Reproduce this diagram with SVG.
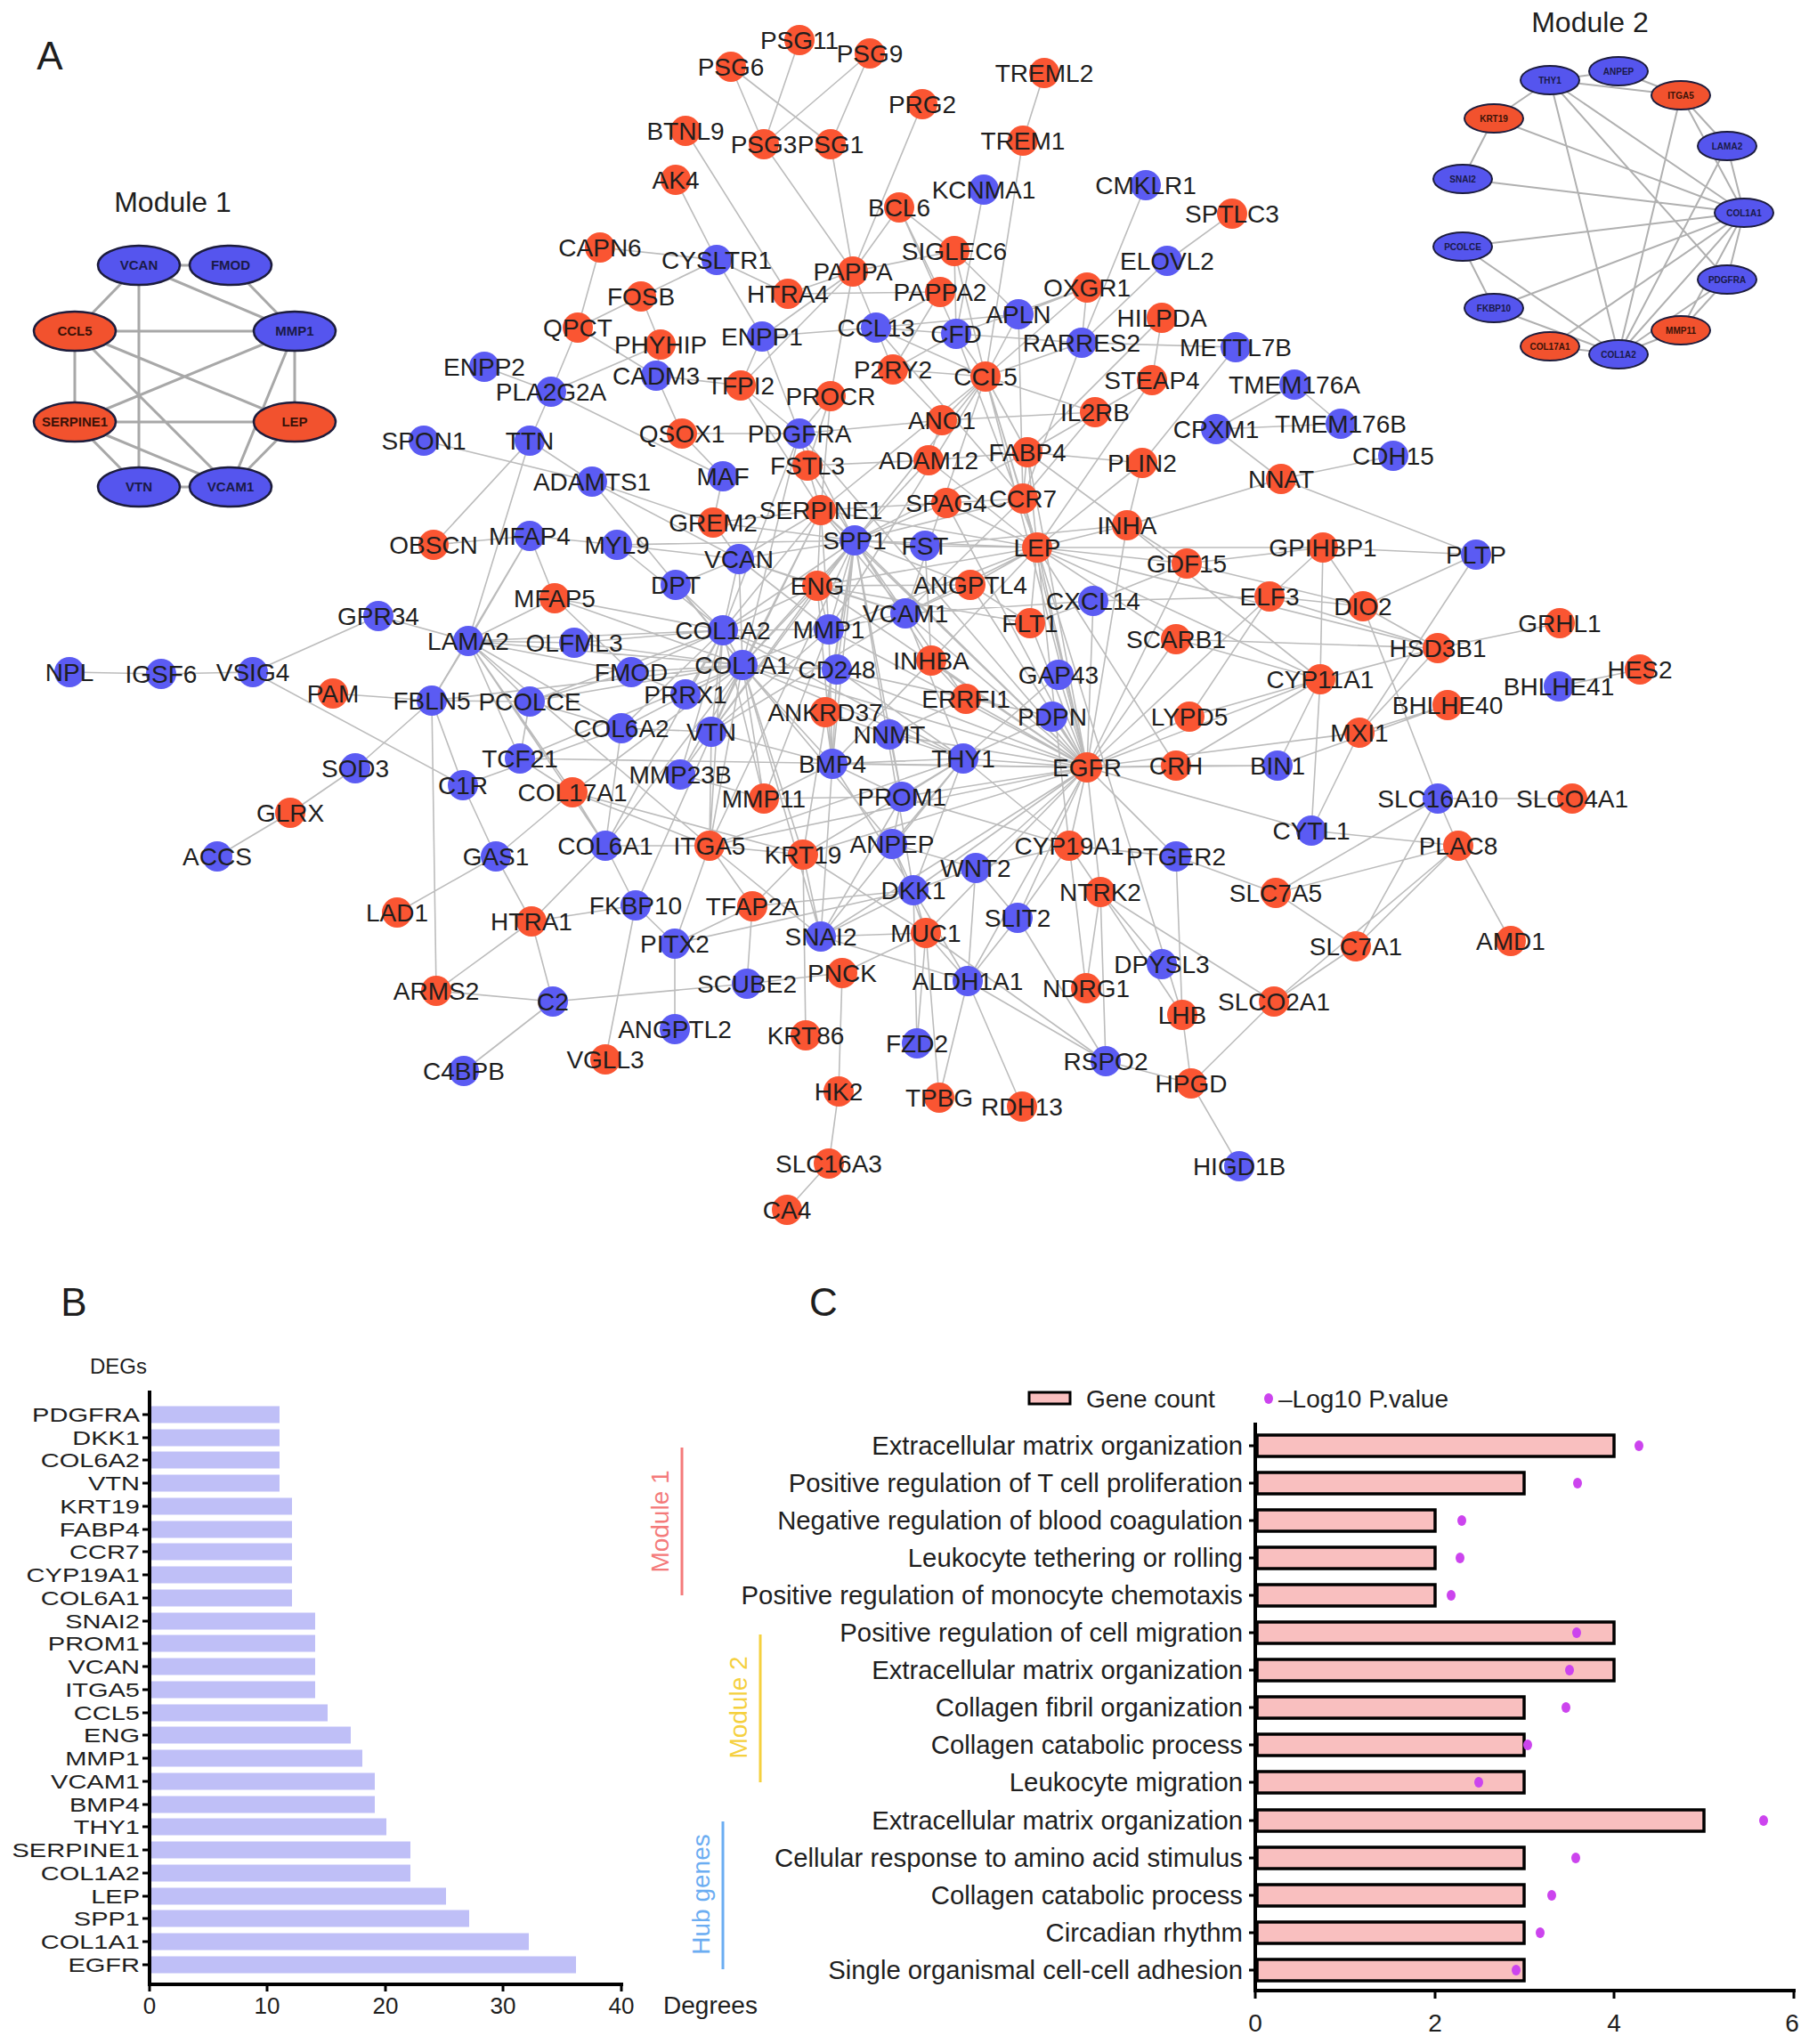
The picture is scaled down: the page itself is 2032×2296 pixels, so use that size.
<svg xmlns="http://www.w3.org/2000/svg" width="2032" height="2296" viewBox="0 0 2032 2296">
<style>
text{font-family:'Liberation Sans',Arial,Helvetica,sans-serif;fill:#1e1e1e}
.net text{font-size:28px;text-anchor:middle}
.o circle{fill:#fa5532}
.b circle{fill:#5b5bf3}
.edges path{stroke:#bcbcbc;stroke-width:1.6;fill:none}
.medges path{stroke:#a8a8a8;stroke-width:3;fill:none}
.m2edges path{stroke:#b0b0b0;stroke-width:2;fill:none}
.m1 ellipse{stroke:#1c1c3c;stroke-width:2.5}
.m2 ellipse{stroke:#1c1c3c;stroke-width:2}
.mo ellipse{fill:#f2522e}
.mb ellipse{fill:#5555ee}
.m1 text{font-size:15px;font-weight:bold;text-anchor:middle;fill:#1a1a48}
.m2 text{font-size:10px;font-weight:bold;text-anchor:middle;fill:#1a1a48}
.mo text{fill:#3a1208}
.title{font-size:32px;text-anchor:middle}
.panel{font-size:44px;text-anchor:middle}
.blab{font-size:22.5px;text-anchor:end}
.bar{fill:#bfbff7}
.axis{stroke:#000;stroke-width:4;fill:none}
.tick{stroke:#000;stroke-width:3;fill:none}
.tl{font-size:26px;text-anchor:middle}
.cbar{fill:#f9bfbf;stroke:#000;stroke-width:3.5}
.dot{fill:#cc44ee}
</style>

<text class="panel" x="56" y="78">A</text>
<text class="panel" x="83" y="1478">B</text>
<text class="panel" x="925" y="1478">C</text>

<!-- Module 1 -->
<text class="title" x="194" y="238">Module 1</text>
<g id="m1-edges" class="medges"><path d="M156 298L259 298M156 298L84 372M156 298L156 547M156 298L331 372M259 298L331 372M84 372L331 372M84 372L84 474M84 372L331 474M84 372L259 547M331 372L84 474M331 372L331 474M331 372L259 547M84 474L331 474M84 474L156 547M84 474L259 547M331 474L259 547M156 547L259 547"/></g>
<g class="m1">
<g id="m1-VCAN" class="mb"><ellipse cx="156" cy="298" rx="46" ry="22"/><text x="156" y="303">VCAN</text></g>
<g id="m1-FMOD" class="mb"><ellipse cx="259" cy="298" rx="46" ry="22"/><text x="259" y="303">FMOD</text></g>
<g id="m1-CCL5" class="mo"><ellipse cx="84" cy="372" rx="46" ry="22"/><text x="84" y="377">CCL5</text></g>
<g id="m1-MMP1" class="mb"><ellipse cx="331" cy="372" rx="46" ry="22"/><text x="331" y="377">MMP1</text></g>
<g id="m1-SERPINE1" class="mo"><ellipse cx="84" cy="474" rx="46" ry="22"/><text x="84" y="479">SERPINE1</text></g>
<g id="m1-LEP" class="mo"><ellipse cx="331" cy="474" rx="46" ry="22"/><text x="331" y="479">LEP</text></g>
<g id="m1-VTN" class="mb"><ellipse cx="156" cy="547" rx="46" ry="22"/><text x="156" y="552">VTN</text></g>
<g id="m1-VCAM1" class="mb"><ellipse cx="259" cy="547" rx="46" ry="22"/><text x="259" y="552">VCAM1</text></g>
</g>

<!-- Module 2 -->
<text class="title" x="1786" y="36">Module 2</text>
<g id="m2-edges" class="m2edges"><path d="M1741 90L1818 80M1741 90L1888 107M1818 80L1888 107M1741 90L1678 133M1741 90L1959 239M1741 90L1940 314M1741 90L1818 398M1678 133L1643 201M1678 133L1959 239M1643 201L1959 239M1888 107L1940 164M1888 107L1959 239M1888 107L1818 398M1940 164L1818 398M1940 164L1959 239M1959 239L1643 277M1959 239L1678 346M1959 239L1741 389M1959 239L1818 398M1959 239L1940 314M1959 239L1888 371M1643 277L1678 346M1643 277L1818 398M1678 346L1818 398M1741 389L1818 398M1888 371L1818 398M1940 314L1818 398M1940 314L1888 371"/></g>
<g class="m2">
<g id="m2-THY1" class="mb"><ellipse cx="1741" cy="90" rx="33" ry="16"/><text x="1741" y="94">THY1</text></g>
<g id="m2-ANPEP" class="mb"><ellipse cx="1818" cy="80" rx="33" ry="16"/><text x="1818" y="84">ANPEP</text></g>
<g id="m2-ITGA5" class="mo"><ellipse cx="1888" cy="107" rx="33" ry="16"/><text x="1888" y="111">ITGA5</text></g>
<g id="m2-KRT19" class="mo"><ellipse cx="1678" cy="133" rx="33" ry="16"/><text x="1678" y="137">KRT19</text></g>
<g id="m2-LAMA2" class="mb"><ellipse cx="1940" cy="164" rx="33" ry="16"/><text x="1940" y="168">LAMA2</text></g>
<g id="m2-SNAI2" class="mb"><ellipse cx="1643" cy="201" rx="33" ry="16"/><text x="1643" y="205">SNAI2</text></g>
<g id="m2-COL1A1" class="mb"><ellipse cx="1959" cy="239" rx="33" ry="16"/><text x="1959" y="243">COL1A1</text></g>
<g id="m2-PCOLCE" class="mb"><ellipse cx="1643" cy="277" rx="33" ry="16"/><text x="1643" y="281">PCOLCE</text></g>
<g id="m2-PDGFRA" class="mb"><ellipse cx="1940" cy="314" rx="33" ry="16"/><text x="1940" y="318">PDGFRA</text></g>
<g id="m2-FKBP10" class="mb"><ellipse cx="1678" cy="346" rx="33" ry="16"/><text x="1678" y="350">FKBP10</text></g>
<g id="m2-MMP11" class="mo"><ellipse cx="1888" cy="371" rx="33" ry="16"/><text x="1888" y="375">MMP11</text></g>
<g id="m2-COL17A1" class="mo"><ellipse cx="1741" cy="389" rx="33" ry="16"/><text x="1741" y="393">COL17A1</text></g>
<g id="m2-COL1A2" class="mb"><ellipse cx="1818" cy="398" rx="33" ry="16"/><text x="1818" y="402">COL1A2</text></g>
</g>

<!-- Network connectors -->
<g id="connectors" class="edges">
<path d="M898 45L858 162M821 75L858 162M821 75L933 162M977 60L858 162M977 60L933 162M858 162L958 305M933 162L958 305M1036 117L958 305M770 147L885 330M1173 82L1149 158M1149 158L1107 423M759 202L805 292M1010 233L958 305M1010 233L1072 282M1010 233L1056 328M1010 233L1074 375M1105 213L1074 375M1287 208L1215 385M1384 240L1311 293M1311 293L1215 385M674 278L805 292M674 278L649 368M805 292L720 333M805 292L885 330M805 292L856 378M885 330L958 305M885 330L1056 328M720 333L742 387M720 333L649 368M958 305L1072 282M958 305L984 368M958 305L832 433M958 305L933 445M958 305L856 378M1072 282L1107 423M1072 282L1074 375M1072 282L1144 353M1056 328L984 368M1056 328L1003 415M1144 353L1221 323M1144 353L984 368M1144 353L1107 423M1144 353L1149 560M1221 323L1215 385M1221 323L1107 423M1221 323L1074 375M1305 357L1294 427M1305 357L1154 508M1215 385L1388 390M1215 385L1107 423M1215 385L1149 560M1215 385L1074 375M1388 390L1283 520M984 368L1074 375M984 368L1003 415M984 368L1107 423M984 368L1149 560M984 368L856 378M1074 375L1107 423M1074 375L1003 415M1074 375L1165 615M1003 415L1107 423M1003 415L1058 472M1107 423L1230 463M1107 423L1149 560M1107 423L960 607M1107 423L1165 615M1107 423L1017 689M1107 423L931 707M1107 423L1058 472M1107 423L1154 508M1107 423L1221 862M1230 463L1149 560M1230 463L1058 472M1294 427L1154 508M1294 427L1165 615M1454 432L1366 482M1454 432L1506 476M1366 482L1506 476M1366 482L1439 538M1439 538L1565 512M1439 538L1658 623M1439 538L1266 590"/>
<path d="M544 412L619 440M649 368L619 440M649 368L737 422M619 440L595 495M619 440L812 535M619 440L742 387M476 495L665 541M595 495L665 541M595 495L526 720M595 495L487 612M856 378L832 433M856 378L898 487M742 387L737 422M737 422L766 487M737 422L832 433M832 433L898 487M832 433L922 573M933 445L922 573M933 445L898 487M933 445L907 523M1058 472L1043 517M1058 472L898 487M766 487L812 535M766 487L898 487M812 535L801 587M665 541L801 587M665 541L830 628M665 541L834 747M898 487L960 607M898 487L834 747M898 487L812 708M898 487L907 523M898 487L1221 862M907 523L922 573M907 523L1043 517M907 523L960 607M1043 517L960 607M1043 517L1165 615M1043 517L1154 508M1154 508L1149 560M1154 508L1165 615M1154 508L960 607M1154 508L1221 862M1154 508L1283 520M1154 508L1266 590M1283 520L1165 615M1283 520L1266 590"/>
<path d="M922 573L960 607M922 573L830 628M922 573L918 658M922 573L931 707M922 573L1017 689M922 573L1165 615M922 573L1107 423M922 573L834 747M922 573L812 708M922 573L799 822M922 573L1221 862M922 573L1063 565M1063 565L1149 560M1063 565L1165 615M1063 565L960 607M1063 565L1221 862M1149 560L1165 615M1149 560L960 607M1149 560L1221 862M1149 560L1017 689M801 587L830 628M801 587L922 573M801 587L960 607M487 612L595 602M595 602L693 612M595 602L623 672M595 602L526 720M595 602L485 787M693 612L960 607M693 612L812 708M693 612L830 628M960 607L1039 613M960 607L1165 615M960 607L918 658M960 607L931 707M960 607L1017 689M960 607L834 747M960 607L812 708M960 607L1221 862M960 607L935 858M960 607L799 822M960 607L797 950M960 607L1013 895M960 607L940 752M960 607L1090 657M960 607L1046 742M960 607L927 800M960 607L902 960M960 607L1026 1000M960 607L830 628M1039 613L1165 615M1039 613L1046 742M1039 613L1266 590M1165 615L1266 590M1165 615L1333 633M1165 615L1090 657M1165 615L1017 689M1165 615L931 707M1165 615L1157 700M1165 615L1221 862M1165 615L1321 860M1165 615L1321 718M1165 615L1201 950M1165 615L1328 1140M1165 615L918 658M1165 615L1046 742M1165 615L1615 728M1165 615L1483 763M1165 615L1486 615M1266 590L1333 633M1266 590L1483 763M1266 590L1221 862"/>
<path d="M1486 615L1658 623M1486 615L1333 633M1486 615L1426 670M1486 615L1483 763M1486 615L1531 681M1658 623L1531 681M1658 623L1527 823M1426 670L1531 681M1426 670L1221 862M1426 670L1228 675M1426 670L1615 728M1426 670L1336 805M1531 681L1615 728M1531 681L1615 897M1531 681L1333 633M1615 728L1752 700M1615 728L1483 763M1615 728L1321 718M1615 728L1527 823M1751 771L1842 752M1626 792L1527 823M1626 792L1435 860M1483 763L1435 860M1483 763L1473 933M1483 763L1221 862M1483 763L1321 860M1483 763L1321 718M1483 763L1336 805M1527 823L1473 933M1527 823L1221 862M1435 860L1321 860M1435 860L1221 862M1615 897L1766 897M1615 897L1638 950M1615 897L1433 1003M1615 897L1523 1063M1473 933L1638 950M1473 933L1221 862M1638 950L1697 1057M1638 950L1433 1003M1638 950L1523 1063M1638 950L1431 1125M1433 1003L1523 1063M1321 962L1433 1003M1431 1125L1523 1063M1431 1125L1338 1217M1431 1125L1236 1002M1338 1217L1392 1310M1338 1217L1328 1140M1338 1217L1242 1192M1321 962L1328 1140M1321 962L1221 862M1321 962L1201 950M1236 1002L1242 1192M1236 1002L1220 1110M1236 1002L1305 1083M1236 1002L1201 950M1236 1002L1328 1140M1236 1002L1221 862"/>
<path d="M1242 1192L1087 1102M1242 1192L1143 1031M1242 1192L1040 1048M1087 1102L1040 1048M1087 1102L1026 1000M1087 1102L1096 975M1087 1102L1148 1243M1087 1102L922 1052M1087 1102L1143 1031M1087 1102L1221 862M1040 1048L1055 1233M1040 1048L1030 1172M1040 1048L922 1052M1040 1048L1026 1000M1040 1048L946 1093M1040 1048L1221 862M1030 1172L1026 1000M1055 1233L1087 1102M902 960L905 1163M946 1093L942 1226M942 1226L931 1307M931 1307L884 1359M839 1105L845 1018M839 1105L946 1093M839 1105L621 1125M758 1156L758 1060M758 1060L714 1017M758 1060L845 1018M758 1060L797 950M758 1060L1026 1000M714 1017L680 950M714 1017L834 747M714 1017L680 1190M845 1018L902 960M845 1018L1026 1000M845 1018L797 950M797 950L680 950M797 950L902 960M797 950L834 747M797 950L812 708M797 950L799 822M797 950L1082 852M797 950L1221 862M797 950L922 1052M902 960L922 1052M902 960L1040 1048M902 960L1221 862M902 960L1082 852M1002 948L1026 1000M1002 948L1096 975M1002 948L1040 1048M1002 948L1082 852M1002 948L1013 895M1096 975L1026 1000M1096 975L1143 1031M1096 975L1201 950M1201 950L1143 1031M1201 950L1221 862M1201 950L1220 1110M1026 1000L922 1052M1026 1000L1221 862M1026 1000L1082 852M1026 1000L935 858M922 1052L1082 852M922 1052L1221 862M922 1052L834 747M922 1052L935 858M922 1052L1013 895"/>
<path d="M78 755L181 757M181 757L284 755M284 755L425 692M284 755L520 882M425 692L526 720M374 779L485 787M485 787L399 863M399 863L326 913M326 913L244 962M485 787L526 720M485 787L520 882M485 787L490 1113M485 787L834 747M485 787L595 788M446 1025L557 962M520 882L557 962M520 882L698 818M557 962L597 1035M557 962L643 890M597 1035L490 1113M597 1035L621 1125M490 1113L621 1125M621 1125L521 1203M597 1035L714 1017M597 1035L680 950M526 720L595 788M526 720L834 747M526 720L812 708M526 720L698 818M526 720L680 950M526 720L584 852M526 720L645 722M526 720L643 890M526 720L709 755M526 720L797 950M623 672L834 747M623 672L812 708M623 672L526 720M623 672L709 755M645 722L834 747M645 722L812 708M595 788L834 747M595 788L812 708M595 788L698 818M595 788L709 755M595 788L584 852M584 852L834 747M584 852L1221 862M584 852L643 890M643 890L834 747M643 890L797 950M643 890L902 960M643 890L680 950M680 950L834 747M680 950L698 818M680 950L812 708M698 818L834 747M698 818L812 708M698 818L799 822M709 755L834 747M709 755L812 708M709 755L770 780M759 657L834 747M759 657L812 708M759 657L830 628M770 780L834 747M770 780L812 708"/>
<path d="M830 628L834 747M830 628L812 708M830 628L931 707M830 628L1017 689M830 628L918 658M812 708L834 747M812 708L931 707M812 708L918 658M812 708L799 822M812 708L1082 852M812 708L1221 862M834 747L931 707M834 747L799 822M834 747L1082 852M834 747L1221 862M834 747L918 658M834 747L935 858M834 747L940 752M834 747L858 897M834 747L764 870M834 747L902 960M834 747L1002 948M931 707L1017 689M931 707L918 658M931 707L799 822M931 707L1221 862M931 707L935 858M931 707L858 897M918 658L1017 689M918 658L935 858M918 658L1221 862M918 658L1090 657M918 658L1157 700M918 658L799 822M1017 689L799 822M1017 689L1221 862M1017 689L1090 657M1017 689L1082 852M1017 689L1228 675M1017 689L1085 785M940 752L1082 852M940 752L935 858M940 752L1182 805M1046 742L935 858M1046 742L1221 862M1046 742L1085 785M1090 657L1157 700M1090 657L1221 862M1157 700L1221 862M1157 700L1228 675M1228 675L1221 862M1228 675L1333 633M1189 758L1221 862M1189 758L1082 852M1182 805L1221 862M1182 805L1082 852M1321 718L1221 862M1336 805L1221 862M1321 860L1221 862M1085 785L1221 862M1085 785L999 825M927 800L935 858M927 800L999 825M999 825L1082 852M999 825L1013 895M999 825L1221 862M935 858L1082 852M935 858L1013 895M935 858L1221 862M935 858L799 822M935 858L858 897M1082 852L1221 862M1082 852L1013 895M1013 895L1221 862M1013 895L858 897M1013 895L1201 950M764 870L812 708M764 870L858 897M858 897L812 708M799 822L764 870M1082 852L1201 950M1333 633L1221 862M1221 862L1143 1031M1221 862L1096 975"/>
</g>

<!-- Network nodes -->
<g class="net">
<g id="n-PSG11" class="o"><circle cx="898" cy="45" r="17"/><text x="898" y="55">PSG11</text></g>
<g id="n-PSG9" class="o"><circle cx="977" cy="60" r="17"/><text x="977" y="70">PSG9</text></g>
<g id="n-PSG6" class="o"><circle cx="821" cy="75" r="17"/><text x="821" y="85">PSG6</text></g>
<g id="n-TREML2" class="o"><circle cx="1173" cy="82" r="17"/><text x="1173" y="92">TREML2</text></g>
<g id="n-PRG2" class="o"><circle cx="1036" cy="117" r="17"/><text x="1036" y="127">PRG2</text></g>
<g id="n-BTNL9" class="o"><circle cx="770" cy="147" r="17"/><text x="770" y="157">BTNL9</text></g>
<g id="n-PSG3" class="o"><circle cx="858" cy="162" r="17"/><text x="858" y="172">PSG3</text></g>
<g id="n-PSG1" class="o"><circle cx="933" cy="162" r="17"/><text x="933" y="172">PSG1</text></g>
<g id="n-TREM1" class="o"><circle cx="1149" cy="158" r="17"/><text x="1149" y="168">TREM1</text></g>
<g id="n-AK4" class="o"><circle cx="759" cy="202" r="17"/><text x="759" y="212">AK4</text></g>
<g id="n-KCNMA1" class="b"><circle cx="1105" cy="213" r="17"/><text x="1105" y="223">KCNMA1</text></g>
<g id="n-CMKLR1" class="b"><circle cx="1287" cy="208" r="17"/><text x="1287" y="218">CMKLR1</text></g>
<g id="n-BCL6" class="o"><circle cx="1010" cy="233" r="17"/><text x="1010" y="243">BCL6</text></g>
<g id="n-SPTLC3" class="o"><circle cx="1384" cy="240" r="17"/><text x="1384" y="250">SPTLC3</text></g>
<g id="n-CAPN6" class="o"><circle cx="674" cy="278" r="17"/><text x="674" y="288">CAPN6</text></g>
<g id="n-SIGLEC6" class="o"><circle cx="1072" cy="282" r="17"/><text x="1072" y="292">SIGLEC6</text></g>
<g id="n-CYSLTR1" class="b"><circle cx="805" cy="292" r="17"/><text x="805" y="302">CYSLTR1</text></g>
<g id="n-ELOVL2" class="b"><circle cx="1311" cy="293" r="17"/><text x="1311" y="303">ELOVL2</text></g>
<g id="n-PAPPA" class="o"><circle cx="958" cy="305" r="17"/><text x="958" y="315">PAPPA</text></g>
<g id="n-HTRA4" class="o"><circle cx="885" cy="330" r="17"/><text x="885" y="340">HTRA4</text></g>
<g id="n-PAPPA2" class="o"><circle cx="1056" cy="328" r="17"/><text x="1056" y="338">PAPPA2</text></g>
<g id="n-OXGR1" class="o"><circle cx="1221" cy="323" r="17"/><text x="1221" y="333">OXGR1</text></g>
<g id="n-FOSB" class="o"><circle cx="720" cy="333" r="17"/><text x="720" y="343">FOSB</text></g>
<g id="n-APLN" class="b"><circle cx="1144" cy="353" r="17"/><text x="1144" y="363">APLN</text></g>
<g id="n-HILPDA" class="o"><circle cx="1305" cy="357" r="17"/><text x="1305" y="367">HILPDA</text></g>
<g id="n-QPCT" class="o"><circle cx="649" cy="368" r="17"/><text x="649" y="378">QPCT</text></g>
<g id="n-PHYHIP" class="o"><circle cx="742" cy="387" r="17"/><text x="742" y="397">PHYHIP</text></g>
<g id="n-ENPP1" class="b"><circle cx="856" cy="378" r="17"/><text x="856" y="388">ENPP1</text></g>
<g id="n-CCL13" class="b"><circle cx="984" cy="368" r="17"/><text x="984" y="378">CCL13</text></g>
<g id="n-CFD" class="b"><circle cx="1074" cy="375" r="17"/><text x="1074" y="385">CFD</text></g>
<g id="n-RARRES2" class="b"><circle cx="1215" cy="385" r="17"/><text x="1215" y="395">RARRES2</text></g>
<g id="n-METTL7B" class="b"><circle cx="1388" cy="390" r="17"/><text x="1388" y="400">METTL7B</text></g>
<g id="n-ENPP2" class="b"><circle cx="544" cy="412" r="17"/><text x="544" y="422">ENPP2</text></g>
<g id="n-CADM3" class="b"><circle cx="737" cy="422" r="17"/><text x="737" y="432">CADM3</text></g>
<g id="n-TFPI2" class="o"><circle cx="832" cy="433" r="17"/><text x="832" y="443">TFPI2</text></g>
<g id="n-P2RY2" class="o"><circle cx="1003" cy="415" r="17"/><text x="1003" y="425">P2RY2</text></g>
<g id="n-CCL5" class="o"><circle cx="1107" cy="423" r="17"/><text x="1107" y="433">CCL5</text></g>
<g id="n-STEAP4" class="o"><circle cx="1294" cy="427" r="17"/><text x="1294" y="437">STEAP4</text></g>
<g id="n-TMEM176A" class="b"><circle cx="1454" cy="432" r="17"/><text x="1454" y="442">TMEM176A</text></g>
<g id="n-PLA2G2A" class="b"><circle cx="619" cy="440" r="17"/><text x="619" y="450">PLA2G2A</text></g>
<g id="n-PROCR" class="o"><circle cx="933" cy="445" r="17"/><text x="933" y="455">PROCR</text></g>
<g id="n-IL2RB" class="o"><circle cx="1230" cy="463" r="17"/><text x="1230" y="473">IL2RB</text></g>
<g id="n-SPON1" class="b"><circle cx="476" cy="495" r="17"/><text x="476" y="505">SPON1</text></g>
<g id="n-TTN" class="b"><circle cx="595" cy="495" r="17"/><text x="595" y="505">TTN</text></g>
<g id="n-QSOX1" class="o"><circle cx="766" cy="487" r="17"/><text x="766" y="497">QSOX1</text></g>
<g id="n-PDGFRA" class="b"><circle cx="898" cy="487" r="17"/><text x="898" y="497">PDGFRA</text></g>
<g id="n-ANO1" class="o"><circle cx="1058" cy="472" r="17"/><text x="1058" y="482">ANO1</text></g>
<g id="n-CPXM1" class="b"><circle cx="1366" cy="482" r="17"/><text x="1366" y="492">CPXM1</text></g>
<g id="n-TMEM176B" class="b"><circle cx="1506" cy="476" r="17"/><text x="1506" y="486">TMEM176B</text></g>
<g id="n-CDH15" class="b"><circle cx="1565" cy="512" r="17"/><text x="1565" y="522">CDH15</text></g>
<g id="n-ADAMTS1" class="b"><circle cx="665" cy="541" r="17"/><text x="665" y="551">ADAMTS1</text></g>
<g id="n-MAF" class="b"><circle cx="812" cy="535" r="17"/><text x="812" y="545">MAF</text></g>
<g id="n-FSTL3" class="o"><circle cx="907" cy="523" r="17"/><text x="907" y="533">FSTL3</text></g>
<g id="n-ADAM12" class="o"><circle cx="1043" cy="517" r="17"/><text x="1043" y="527">ADAM12</text></g>
<g id="n-FABP4" class="o"><circle cx="1154" cy="508" r="17"/><text x="1154" y="518">FABP4</text></g>
<g id="n-PLIN2" class="o"><circle cx="1283" cy="520" r="17"/><text x="1283" y="530">PLIN2</text></g>
<g id="n-NNAT" class="o"><circle cx="1439" cy="538" r="17"/><text x="1439" y="548">NNAT</text></g>
<g id="n-SERPINE1" class="o"><circle cx="922" cy="573" r="17"/><text x="922" y="583">SERPINE1</text></g>
<g id="n-SPAG4" class="o"><circle cx="1063" cy="565" r="17"/><text x="1063" y="575">SPAG4</text></g>
<g id="n-CCR7" class="o"><circle cx="1149" cy="560" r="17"/><text x="1149" y="570">CCR7</text></g>
<g id="n-GREM2" class="o"><circle cx="801" cy="587" r="17"/><text x="801" y="597">GREM2</text></g>
<g id="n-OBSCN" class="o"><circle cx="487" cy="612" r="17"/><text x="487" y="622">OBSCN</text></g>
<g id="n-MFAP4" class="b"><circle cx="595" cy="602" r="17"/><text x="595" y="612">MFAP4</text></g>
<g id="n-MYL9" class="b"><circle cx="693" cy="612" r="17"/><text x="693" y="622">MYL9</text></g>
<g id="n-SPP1" class="b"><circle cx="960" cy="607" r="17"/><text x="960" y="617">SPP1</text></g>
<g id="n-FST" class="b"><circle cx="1039" cy="613" r="17"/><text x="1039" y="623">FST</text></g>
<g id="n-LEP" class="o"><circle cx="1165" cy="615" r="17"/><text x="1165" y="625">LEP</text></g>
<g id="n-INHA" class="o"><circle cx="1266" cy="590" r="17"/><text x="1266" y="600">INHA</text></g>
<g id="n-GPIHBP1" class="o"><circle cx="1486" cy="615" r="17"/><text x="1486" y="625">GPIHBP1</text></g>
<g id="n-PLTP" class="b"><circle cx="1658" cy="623" r="17"/><text x="1658" y="633">PLTP</text></g>
<g id="n-VCAN" class="b"><circle cx="830" cy="628" r="17"/><text x="830" y="638">VCAN</text></g>
<g id="n-GDF15" class="o"><circle cx="1333" cy="633" r="17"/><text x="1333" y="643">GDF15</text></g>
<g id="n-DPT" class="b"><circle cx="759" cy="657" r="17"/><text x="759" y="667">DPT</text></g>
<g id="n-ENG" class="o"><circle cx="918" cy="658" r="17"/><text x="918" y="668">ENG</text></g>
<g id="n-ANGPTL4" class="o"><circle cx="1090" cy="657" r="17"/><text x="1090" y="667">ANGPTL4</text></g>
<g id="n-MFAP5" class="o"><circle cx="623" cy="672" r="17"/><text x="623" y="682">MFAP5</text></g>
<g id="n-ELF3" class="o"><circle cx="1426" cy="670" r="17"/><text x="1426" y="680">ELF3</text></g>
<g id="n-DIO2" class="o"><circle cx="1531" cy="681" r="17"/><text x="1531" y="691">DIO2</text></g>
<g id="n-GPR34" class="b"><circle cx="425" cy="692" r="17"/><text x="425" y="702">GPR34</text></g>
<g id="n-CXCL14" class="b"><circle cx="1228" cy="675" r="17"/><text x="1228" y="685">CXCL14</text></g>
<g id="n-VCAM1" class="b"><circle cx="1017" cy="689" r="17"/><text x="1017" y="699">VCAM1</text></g>
<g id="n-LAMA2" class="b"><circle cx="526" cy="720" r="17"/><text x="526" y="730">LAMA2</text></g>
<g id="n-OLFML3" class="b"><circle cx="645" cy="722" r="17"/><text x="645" y="732">OLFML3</text></g>
<g id="n-COL1A2" class="b"><circle cx="812" cy="708" r="17"/><text x="812" y="718">COL1A2</text></g>
<g id="n-MMP1" class="b"><circle cx="931" cy="707" r="17"/><text x="931" y="717">MMP1</text></g>
<g id="n-FLT1" class="o"><circle cx="1157" cy="700" r="17"/><text x="1157" y="710">FLT1</text></g>
<g id="n-SCARB1" class="o"><circle cx="1321" cy="718" r="17"/><text x="1321" y="728">SCARB1</text></g>
<g id="n-HSD3B1" class="o"><circle cx="1615" cy="728" r="17"/><text x="1615" y="738">HSD3B1</text></g>
<g id="n-GRHL1" class="o"><circle cx="1752" cy="700" r="17"/><text x="1752" y="710">GRHL1</text></g>
<g id="n-NPL" class="b"><circle cx="78" cy="755" r="17"/><text x="78" y="765">NPL</text></g>
<g id="n-IGSF6" class="b"><circle cx="181" cy="757" r="17"/><text x="181" y="767">IGSF6</text></g>
<g id="n-VSIG4" class="b"><circle cx="284" cy="755" r="17"/><text x="284" y="765">VSIG4</text></g>
<g id="n-PAM" class="o"><circle cx="374" cy="779" r="17"/><text x="374" y="789">PAM</text></g>
<g id="n-FBLN5" class="b"><circle cx="485" cy="787" r="17"/><text x="485" y="797">FBLN5</text></g>
<g id="n-PCOLCE" class="b"><circle cx="595" cy="788" r="17"/><text x="595" y="798">PCOLCE</text></g>
<g id="n-FMOD" class="b"><circle cx="709" cy="755" r="17"/><text x="709" y="765">FMOD</text></g>
<g id="n-COL1A1" class="b"><circle cx="834" cy="747" r="17"/><text x="834" y="757">COL1A1</text></g>
<g id="n-CD248" class="b"><circle cx="940" cy="752" r="17"/><text x="940" y="762">CD248</text></g>
<g id="n-INHBA" class="o"><circle cx="1046" cy="742" r="17"/><text x="1046" y="752">INHBA</text></g>
<g id="n-GAP43" class="b"><circle cx="1189" cy="758" r="17"/><text x="1189" y="768">GAP43</text></g>
<g id="n-CYP11A1" class="o"><circle cx="1483" cy="763" r="17"/><text x="1483" y="773">CYP11A1</text></g>
<g id="n-HES2" class="o"><circle cx="1842" cy="752" r="17"/><text x="1842" y="762">HES2</text></g>
<g id="n-BHLHE41" class="b"><circle cx="1751" cy="771" r="17"/><text x="1751" y="781">BHLHE41</text></g>
<g id="n-PRRX1" class="b"><circle cx="770" cy="780" r="17"/><text x="770" y="790">PRRX1</text></g>
<g id="n-ANKRD37" class="o"><circle cx="927" cy="800" r="17"/><text x="927" y="810">ANKRD37</text></g>
<g id="n-ERRFI1" class="o"><circle cx="1085" cy="785" r="17"/><text x="1085" y="795">ERRFI1</text></g>
<g id="n-PDPN" class="b"><circle cx="1182" cy="805" r="17"/><text x="1182" y="815">PDPN</text></g>
<g id="n-LYPD5" class="o"><circle cx="1336" cy="805" r="17"/><text x="1336" y="815">LYPD5</text></g>
<g id="n-BHLHE40" class="o"><circle cx="1626" cy="792" r="17"/><text x="1626" y="802">BHLHE40</text></g>
<g id="n-COL6A2" class="b"><circle cx="698" cy="818" r="17"/><text x="698" y="828">COL6A2</text></g>
<g id="n-VTN" class="b"><circle cx="799" cy="822" r="17"/><text x="799" y="832">VTN</text></g>
<g id="n-NNMT" class="b"><circle cx="999" cy="825" r="17"/><text x="999" y="835">NNMT</text></g>
<g id="n-MXI1" class="o"><circle cx="1527" cy="823" r="17"/><text x="1527" y="833">MXI1</text></g>
<g id="n-TCF21" class="b"><circle cx="584" cy="852" r="17"/><text x="584" y="862">TCF21</text></g>
<g id="n-SOD3" class="b"><circle cx="399" cy="863" r="17"/><text x="399" y="873">SOD3</text></g>
<g id="n-MMP23B" class="b"><circle cx="764" cy="870" r="17"/><text x="764" y="880">MMP23B</text></g>
<g id="n-BMP4" class="b"><circle cx="935" cy="858" r="17"/><text x="935" y="868">BMP4</text></g>
<g id="n-THY1" class="b"><circle cx="1082" cy="852" r="17"/><text x="1082" y="862">THY1</text></g>
<g id="n-EGFR" class="o"><circle cx="1221" cy="862" r="17"/><text x="1221" y="872">EGFR</text></g>
<g id="n-CRH" class="o"><circle cx="1321" cy="860" r="17"/><text x="1321" y="870">CRH</text></g>
<g id="n-BIN1" class="b"><circle cx="1435" cy="860" r="17"/><text x="1435" y="870">BIN1</text></g>
<g id="n-C1R" class="b"><circle cx="520" cy="882" r="17"/><text x="520" y="892">C1R</text></g>
<g id="n-COL17A1" class="o"><circle cx="643" cy="890" r="17"/><text x="643" y="900">COL17A1</text></g>
<g id="n-MMP11" class="o"><circle cx="858" cy="897" r="17"/><text x="858" y="907">MMP11</text></g>
<g id="n-PROM1" class="b"><circle cx="1013" cy="895" r="17"/><text x="1013" y="905">PROM1</text></g>
<g id="n-SLC16A10" class="b"><circle cx="1615" cy="897" r="17"/><text x="1615" y="907">SLC16A10</text></g>
<g id="n-SLCO4A1" class="o"><circle cx="1766" cy="897" r="17"/><text x="1766" y="907">SLCO4A1</text></g>
<g id="n-GLRX" class="o"><circle cx="326" cy="913" r="17"/><text x="326" y="923">GLRX</text></g>
<g id="n-CYTL1" class="b"><circle cx="1473" cy="933" r="17"/><text x="1473" y="943">CYTL1</text></g>
<g id="n-ACCS" class="b"><circle cx="244" cy="962" r="17"/><text x="244" y="972">ACCS</text></g>
<g id="n-GAS1" class="b"><circle cx="557" cy="962" r="17"/><text x="557" y="972">GAS1</text></g>
<g id="n-COL6A1" class="b"><circle cx="680" cy="950" r="17"/><text x="680" y="960">COL6A1</text></g>
<g id="n-ITGA5" class="o"><circle cx="797" cy="950" r="17"/><text x="797" y="960">ITGA5</text></g>
<g id="n-KRT19" class="o"><circle cx="902" cy="960" r="17"/><text x="902" y="970">KRT19</text></g>
<g id="n-ANPEP" class="b"><circle cx="1002" cy="948" r="17"/><text x="1002" y="958">ANPEP</text></g>
<g id="n-CYP19A1" class="o"><circle cx="1201" cy="950" r="17"/><text x="1201" y="960">CYP19A1</text></g>
<g id="n-PTGER2" class="b"><circle cx="1321" cy="962" r="17"/><text x="1321" y="972">PTGER2</text></g>
<g id="n-PLAC8" class="o"><circle cx="1638" cy="950" r="17"/><text x="1638" y="960">PLAC8</text></g>
<g id="n-WNT2" class="b"><circle cx="1096" cy="975" r="17"/><text x="1096" y="985">WNT2</text></g>
<g id="n-DKK1" class="b"><circle cx="1026" cy="1000" r="17"/><text x="1026" y="1010">DKK1</text></g>
<g id="n-SLC7A5" class="o"><circle cx="1433" cy="1003" r="17"/><text x="1433" y="1013">SLC7A5</text></g>
<g id="n-NTRK2" class="o"><circle cx="1236" cy="1002" r="17"/><text x="1236" y="1012">NTRK2</text></g>
<g id="n-LAD1" class="o"><circle cx="446" cy="1025" r="17"/><text x="446" y="1035">LAD1</text></g>
<g id="n-HTRA1" class="o"><circle cx="597" cy="1035" r="17"/><text x="597" y="1045">HTRA1</text></g>
<g id="n-FKBP10" class="b"><circle cx="714" cy="1017" r="17"/><text x="714" y="1027">FKBP10</text></g>
<g id="n-TFAP2A" class="o"><circle cx="845" cy="1018" r="17"/><text x="845" y="1028">TFAP2A</text></g>
<g id="n-MUC1" class="o"><circle cx="1040" cy="1048" r="17"/><text x="1040" y="1058">MUC1</text></g>
<g id="n-SLIT2" class="b"><circle cx="1143" cy="1031" r="17"/><text x="1143" y="1041">SLIT2</text></g>
<g id="n-PITX2" class="b"><circle cx="758" cy="1060" r="17"/><text x="758" y="1070">PITX2</text></g>
<g id="n-SNAI2" class="b"><circle cx="922" cy="1052" r="17"/><text x="922" y="1062">SNAI2</text></g>
<g id="n-SLC7A1" class="o"><circle cx="1523" cy="1063" r="17"/><text x="1523" y="1073">SLC7A1</text></g>
<g id="n-AMD1" class="o"><circle cx="1697" cy="1057" r="17"/><text x="1697" y="1067">AMD1</text></g>
<g id="n-DPYSL3" class="b"><circle cx="1305" cy="1083" r="17"/><text x="1305" y="1093">DPYSL3</text></g>
<g id="n-ALDH1A1" class="b"><circle cx="1087" cy="1102" r="17"/><text x="1087" y="1112">ALDH1A1</text></g>
<g id="n-ARMS2" class="o"><circle cx="490" cy="1113" r="17"/><text x="490" y="1123">ARMS2</text></g>
<g id="n-SCUBE2" class="b"><circle cx="839" cy="1105" r="17"/><text x="839" y="1115">SCUBE2</text></g>
<g id="n-PNCK" class="o"><circle cx="946" cy="1093" r="17"/><text x="946" y="1103">PNCK</text></g>
<g id="n-NDRG1" class="o"><circle cx="1220" cy="1110" r="17"/><text x="1220" y="1120">NDRG1</text></g>
<g id="n-C2" class="b"><circle cx="621" cy="1125" r="17"/><text x="621" y="1135">C2</text></g>
<g id="n-SLCO2A1" class="o"><circle cx="1431" cy="1125" r="17"/><text x="1431" y="1135">SLCO2A1</text></g>
<g id="n-LHB" class="o"><circle cx="1328" cy="1140" r="17"/><text x="1328" y="1150">LHB</text></g>
<g id="n-ANGPTL2" class="b"><circle cx="758" cy="1156" r="17"/><text x="758" y="1166">ANGPTL2</text></g>
<g id="n-KRT86" class="o"><circle cx="905" cy="1163" r="17"/><text x="905" y="1173">KRT86</text></g>
<g id="n-VGLL3" class="o"><circle cx="680" cy="1190" r="17"/><text x="680" y="1200">VGLL3</text></g>
<g id="n-FZD2" class="b"><circle cx="1030" cy="1172" r="17"/><text x="1030" y="1182">FZD2</text></g>
<g id="n-RSPO2" class="b"><circle cx="1242" cy="1192" r="17"/><text x="1242" y="1202">RSPO2</text></g>
<g id="n-C4BPB" class="b"><circle cx="521" cy="1203" r="17"/><text x="521" y="1213">C4BPB</text></g>
<g id="n-HPGD" class="o"><circle cx="1338" cy="1217" r="17"/><text x="1338" y="1227">HPGD</text></g>
<g id="n-HK2" class="o"><circle cx="942" cy="1226" r="17"/><text x="942" y="1236">HK2</text></g>
<g id="n-TPBG" class="o"><circle cx="1055" cy="1233" r="17"/><text x="1055" y="1243">TPBG</text></g>
<g id="n-RDH13" class="o"><circle cx="1148" cy="1243" r="17"/><text x="1148" y="1253">RDH13</text></g>
<g id="n-HIGD1B" class="b"><circle cx="1392" cy="1310" r="17"/><text x="1392" y="1320">HIGD1B</text></g>
<g id="n-SLC16A3" class="o"><circle cx="931" cy="1307" r="17"/><text x="931" y="1317">SLC16A3</text></g>
<g id="n-CA4" class="o"><circle cx="884" cy="1359" r="17"/><text x="884" y="1369">CA4</text></g>
</g>

<!-- Panel B -->
<g id="panel-B">
<text x="133" y="1543" style="font-size:24px;text-anchor:middle">DEGs</text>
<g class="bars">
<rect class="bar" x="170" y="1579.5" width="144" height="19"/>
<rect class="bar" x="170" y="1605.5" width="144" height="19"/>
<rect class="bar" x="170" y="1630.5" width="144" height="19"/>
<rect class="bar" x="170" y="1656.5" width="144" height="19"/>
<rect class="bar" x="170" y="1682.5" width="158" height="19"/>
<rect class="bar" x="170" y="1708.5" width="158" height="19"/>
<rect class="bar" x="170" y="1733.5" width="158" height="19"/>
<rect class="bar" x="170" y="1759.5" width="158" height="19"/>
<rect class="bar" x="170" y="1785.5" width="158" height="19"/>
<rect class="bar" x="170" y="1811.5" width="184" height="19"/>
<rect class="bar" x="170" y="1836.5" width="184" height="19"/>
<rect class="bar" x="170" y="1862.5" width="184" height="19"/>
<rect class="bar" x="170" y="1888.5" width="184" height="19"/>
<rect class="bar" x="170" y="1914.5" width="198" height="19"/>
<rect class="bar" x="170" y="1939.5" width="224" height="19"/>
<rect class="bar" x="170" y="1965.5" width="237" height="19"/>
<rect class="bar" x="170" y="1991.5" width="251" height="19"/>
<rect class="bar" x="170" y="2017.5" width="251" height="19"/>
<rect class="bar" x="170" y="2042.5" width="264" height="19"/>
<rect class="bar" x="170" y="2068.5" width="291" height="19"/>
<rect class="bar" x="170" y="2094.5" width="291" height="19"/>
<rect class="bar" x="170" y="2120.5" width="331" height="19"/>
<rect class="bar" x="170" y="2145.5" width="357" height="19"/>
<rect class="bar" x="170" y="2171.5" width="424" height="19"/>
<rect class="bar" x="170" y="2197.5" width="477" height="19"/>
</g>
<path class="tick" d="M160 1589H168M160 1615H168M160 1640H168M160 1666H168M160 1692H168M160 1718H168M160 1743H168M160 1769H168M160 1795H168M160 1821H168M160 1846H168M160 1872H168M160 1898H168M160 1924H168M160 1949H168M160 1975H168M160 2001H168M160 2027H168M160 2052H168M160 2078H168M160 2104H168M160 2130H168M160 2155H168M160 2181H168M160 2207H168M168 2229V2237M300 2229V2237M433 2229V2237M565 2229V2237M698 2229V2237"/>
<path class="axis" d="M168 1562V2231M166 2229H700"/>
<g class="blabels" transform="scale(1.29 1)">
<text class="blab" x="121.7" y="1597">PDGFRA</text>
<text class="blab" x="121.7" y="1623">DKK1</text>
<text class="blab" x="121.7" y="1648">COL6A2</text>
<text class="blab" x="121.7" y="1674">VTN</text>
<text class="blab" x="121.7" y="1700">KRT19</text>
<text class="blab" x="121.7" y="1726">FABP4</text>
<text class="blab" x="121.7" y="1751">CCR7</text>
<text class="blab" x="121.7" y="1777">CYP19A1</text>
<text class="blab" x="121.7" y="1803">COL6A1</text>
<text class="blab" x="121.7" y="1829">SNAI2</text>
<text class="blab" x="121.7" y="1854">PROM1</text>
<text class="blab" x="121.7" y="1880">VCAN</text>
<text class="blab" x="121.7" y="1906">ITGA5</text>
<text class="blab" x="121.7" y="1932">CCL5</text>
<text class="blab" x="121.7" y="1957">ENG</text>
<text class="blab" x="121.7" y="1983">MMP1</text>
<text class="blab" x="121.7" y="2009">VCAM1</text>
<text class="blab" x="121.7" y="2035">BMP4</text>
<text class="blab" x="121.7" y="2060">THY1</text>
<text class="blab" x="121.7" y="2086">SERPINE1</text>
<text class="blab" x="121.7" y="2112">COL1A2</text>
<text class="blab" x="121.7" y="2138">LEP</text>
<text class="blab" x="121.7" y="2163">SPP1</text>
<text class="blab" x="121.7" y="2189">COL1A1</text>
<text class="blab" x="121.7" y="2215">EGFR</text>
</g>
<text class="tl" x="168" y="2262">0</text>
<text class="tl" x="300" y="2262">10</text>
<text class="tl" x="433" y="2262">20</text>
<text class="tl" x="565" y="2262">30</text>
<text class="tl" x="698" y="2262">40</text>
<text x="798" y="2262" style="font-size:28px;text-anchor:middle">Degrees</text>
</g>

<!-- Panel C -->
<g id="panel-C">
<rect x="1156" y="1564" width="46" height="13" class="cbar" style="stroke-width:3"/>
<text x="1220" y="1581" style="font-size:28px">Gene count</text>
<ellipse class="dot" cx="1425" cy="1571" rx="5" ry="6"/>
<text x="1436" y="1581" style="font-size:28px">–Log10 P.value</text>

<line x1="766" y1="1626" x2="766" y2="1792" stroke="#f47a7a" stroke-width="3"/>
<text transform="translate(751,1709) rotate(-90)" style="font-size:28px;text-anchor:middle;fill:#f47a7a">Module 1</text>
<line x1="854" y1="1836" x2="854" y2="2002" stroke="#f5d03e" stroke-width="3"/>
<text transform="translate(839,1918) rotate(-90)" style="font-size:28px;text-anchor:middle;fill:#f5d03e">Module 2</text>
<line x1="812" y1="2046" x2="812" y2="2212" stroke="#6badf2" stroke-width="3"/>
<text transform="translate(797,2128) rotate(-90)" style="font-size:28px;text-anchor:middle;fill:#6badf2">Hub genes</text>

<rect class="cbar" x="1412" y="1612" width="401" height="24"/>
<rect class="cbar" x="1412" y="1654" width="300" height="24"/>
<rect class="cbar" x="1412" y="1696" width="200" height="24"/>
<rect class="cbar" x="1412" y="1738" width="200" height="24"/>
<rect class="cbar" x="1412" y="1780" width="200" height="24"/>
<rect class="cbar" x="1412" y="1822" width="401" height="24"/>
<rect class="cbar" x="1412" y="1864" width="401" height="24"/>
<rect class="cbar" x="1412" y="1906" width="300" height="24"/>
<rect class="cbar" x="1412" y="1948" width="300" height="24"/>
<rect class="cbar" x="1412" y="1990" width="300" height="24"/>
<rect class="cbar" x="1412" y="2033" width="502" height="24"/>
<rect class="cbar" x="1412" y="2075" width="300" height="24"/>
<rect class="cbar" x="1412" y="2117" width="300" height="24"/>
<rect class="cbar" x="1412" y="2159" width="300" height="24"/>
<rect class="cbar" x="1412" y="2201" width="300" height="24"/>

<g class="dots">
<ellipse class="dot" cx="1841" cy="1624" rx="5" ry="6"/>
<ellipse class="dot" cx="1772" cy="1666" rx="5" ry="6"/>
<ellipse class="dot" cx="1642" cy="1708" rx="5" ry="6"/>
<ellipse class="dot" cx="1640" cy="1750" rx="5" ry="6"/>
<ellipse class="dot" cx="1630" cy="1792" rx="5" ry="6"/>
<ellipse class="dot" cx="1771" cy="1834" rx="5" ry="6"/>
<ellipse class="dot" cx="1763" cy="1876" rx="5" ry="6"/>
<ellipse class="dot" cx="1759" cy="1918" rx="5" ry="6"/>
<ellipse class="dot" cx="1716" cy="1960" rx="5" ry="6"/>
<ellipse class="dot" cx="1661" cy="2002" rx="5" ry="6"/>
<ellipse class="dot" cx="1981" cy="2045" rx="5" ry="6"/>
<ellipse class="dot" cx="1770" cy="2087" rx="5" ry="6"/>
<ellipse class="dot" cx="1743" cy="2129" rx="5" ry="6"/>
<ellipse class="dot" cx="1730" cy="2171" rx="5" ry="6"/>
<ellipse class="dot" cx="1703" cy="2213" rx="5" ry="6"/>
</g>

<path class="tick" d="M1403 1624H1410M1403 1666H1410M1403 1708H1410M1403 1750H1410M1403 1792H1410M1403 1834H1410M1403 1876H1410M1403 1918H1410M1403 1960H1410M1403 2002H1410M1403 2045H1410M1403 2087H1410M1403 2129H1410M1403 2171H1410M1403 2213H1410M1410 2236V2245M1612 2236V2245M1813 2236V2245M2015 2236V2245"/>
<path class="axis" d="M1410 1598V2238M1408 2236H2017"/>

<g style="font-size:29.3px;text-anchor:end">
<text x="1396" y="1634">Extracellular matrix organization</text>
<text x="1396" y="1676">Positive regulation of T cell proliferation</text>
<text x="1396" y="1718">Negative regulation of blood coagulation</text>
<text x="1396" y="1760">Leukocyte tethering or rolling</text>
<text x="1396" y="1802">Positive regulation of monocyte chemotaxis</text>
<text x="1396" y="1844">Positive regulation of cell migration</text>
<text x="1396" y="1886">Extracellular matrix organization</text>
<text x="1396" y="1928">Collagen fibril organization</text>
<text x="1396" y="1970">Collagen catabolic process</text>
<text x="1396" y="2012">Leukocyte migration</text>
<text x="1396" y="2055">Extracellular matrix organization</text>
<text x="1396" y="2097">Cellular response to amino acid stimulus</text>
<text x="1396" y="2139">Collagen catabolic process</text>
<text x="1396" y="2181">Circadian rhythm</text>
<text x="1396" y="2223">Single organismal cell-cell adhesion</text>
</g>
<text class="tl" x="1410" y="2282" style="font-size:28px">0</text>
<text class="tl" x="1612" y="2282" style="font-size:28px">2</text>
<text class="tl" x="1813" y="2282" style="font-size:28px">4</text>
<text class="tl" x="2013" y="2282" style="font-size:28px">6</text>
</g>
</svg>
